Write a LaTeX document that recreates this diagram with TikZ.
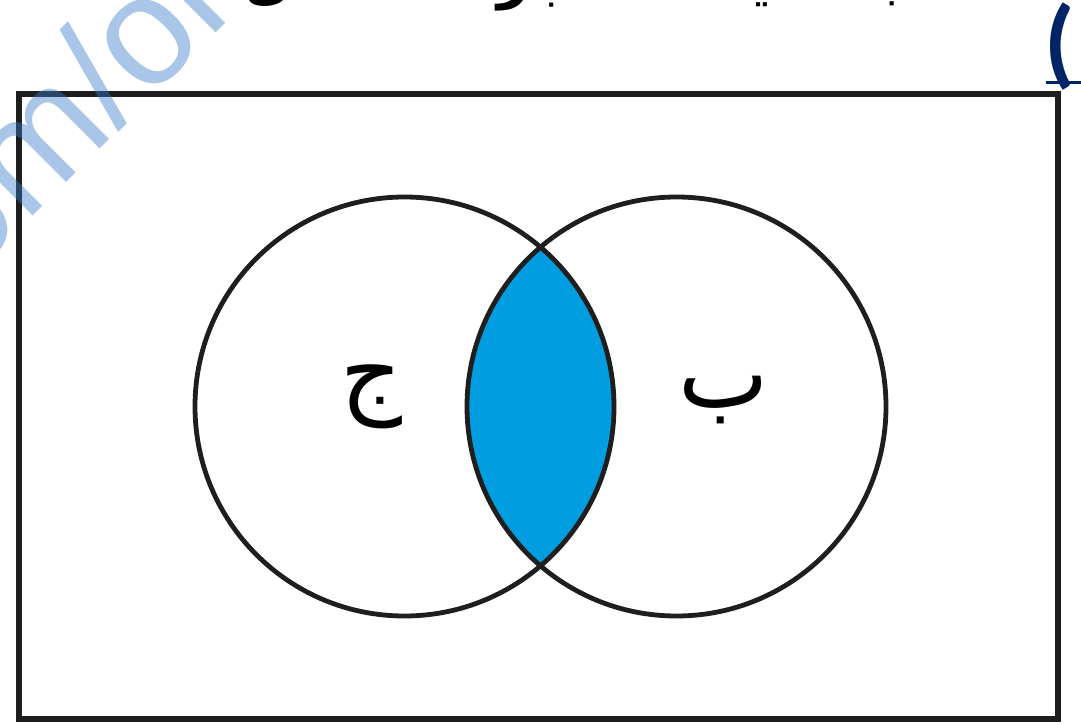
\documentclass[tikz,border=0pt]{standalone}
\usepackage{fontspec}
\TeXXeTstate=1
\newfontfamily\arabicfont[Script=Arabic]{DejaVu Sans}
\newfontfamily\wmfont{Liberation Sans}
\newfontfamily\parfont{Carlito}
\definecolor{venn}{RGB}{0,158,224}
\definecolor{wmblue}{RGB}{56,123,202}
\definecolor{navy}{RGB}{0,36,102}
\definecolor{ink}{RGB}{30,30,30}
\tikzset{
  setcircle/.style={circle, draw=ink, line width=4.8pt, minimum size=419pt, inner sep=0pt, outer sep=0pt},
  setlabel/.style={inner sep=0pt, font=\arabicfont\fontsize{96}{100}\selectfont},
  wm/.style={text=wmblue, text opacity=0.43, inner sep=0pt, font=\wmfont\fontsize{155}{160}\selectfont},
}
\begin{document}
\begin{tikzpicture}[x=1pt,y=-1pt]
\useasboundingbox (0,0) rectangle (1081,725);
\clip (0,0) rectangle (1081,725);
\fill[white] (0,0) rectangle (1081,725);
% title (cut off at the top)
\node[anchor=base east, inner sep=0pt, font=\arabicfont\bfseries\fontsize{56}{64}\selectfont] (title) at (1000,-2) {\beginR اكتب ما يمثله الجزء المظلل\endR};
\node[text=navy, inner sep=0pt, font=\parfont\bfseries\fontsize{98}{100}\selectfont] (paren) at (1060,47) {(};
\coordinate (ul1) at (1046,82);
\coordinate (ul2) at (1081,82);
\draw[navy, line width=3pt] (ul1) -- (ul2);
% universal set frame
\coordinate (tl) at (19,94);
\coordinate (br) at (1058,718.5);
\draw[ink, line width=6pt] (tl) rectangle (br);
% intersection
\coordinate (cj) at (404.5,406.5);
\coordinate (cb) at (676.5,406.5);
\begin{scope}
  \clip (cj) circle (209.5pt);
  \fill[venn] (cb) circle (209.5pt);
\end{scope}
\node[setcircle] (J) at (cj) {};
\node[setcircle] (B) at (cb) {};
\node[setlabel] (jlab) at (371,397) {\beginR ج\endR};
\node[setlabel] (blab) at (724,400) {\beginR ب\endR};
% watermark
\node[wm, rotate=45, anchor=base west] (mark) at (-90,339) {com/on};
\end{tikzpicture}
\end{document}
